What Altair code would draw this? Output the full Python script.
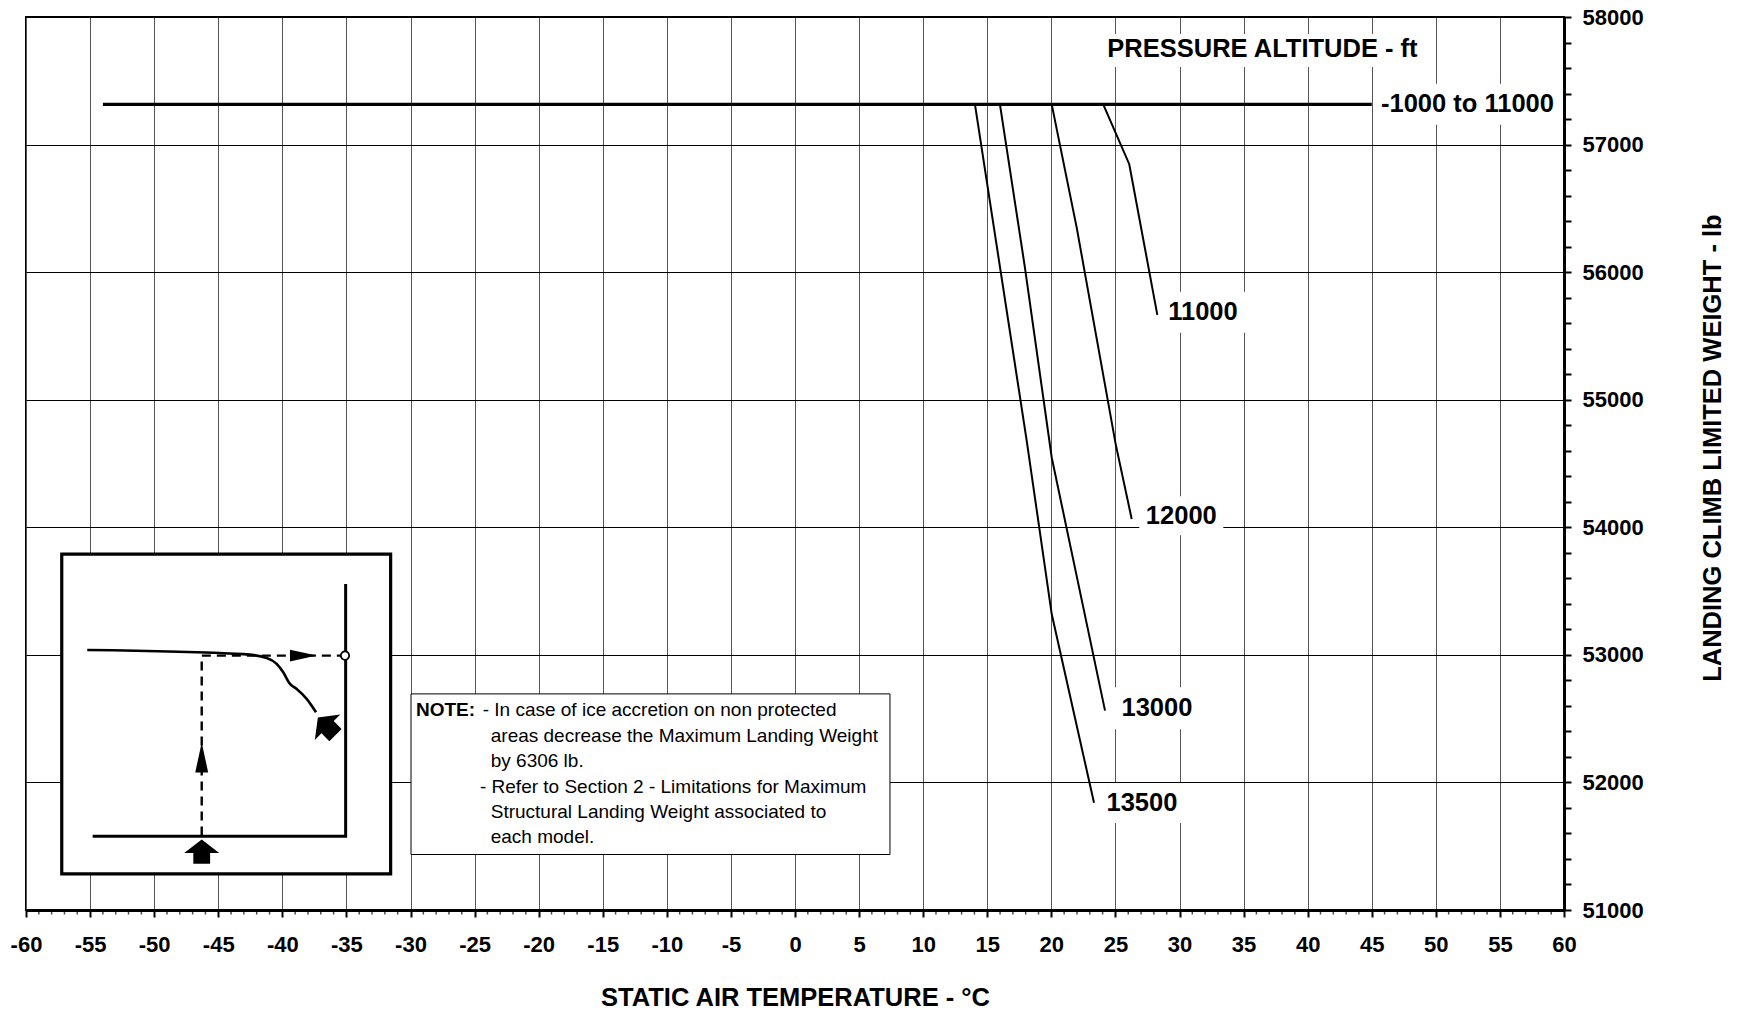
import altair as alt
import pandas as pd

# ---------------- layout constants ----------------
W_PLOT, H_PLOT = 1538, 893
T_MIN, T_MAX = -60, 60
W_MIN, W_MAX = 51000, 58000
PX_T = W_PLOT / (T_MAX - T_MIN)      # px per degC
PX_W = H_PLOT / (W_MAX - W_MIN)      # px per lb
FONT = "Liberation Sans"

# ---------------- data ----------------
x_major = list(range(-60, 61, 5))
x_minor = [t for t in range(-60, 61) if t % 5 != 0]
y_ticks = list(range(51000, 58001, 200))

base_T = [-54.0, 45.0]
base_W = [57315, 57315]

c11000_T = [24.05, 26.08, 28.27]
c11000_W = [57315, 56846, 55665]
c12000_T = [20.03, 21.98, 25.02, 26.27]
c12000_W = [57315, 56349, 54652, 54065]
c13000_T = [15.99, 17.94, 20.03, 24.19]
c13000_W = [57315, 56036, 54547, 52563]
c13500_T = [14.04, 18.08, 20.03, 23.33]
c13500_W = [57315, 54678, 53320, 51840]

curve_labels = ["-1000 to 11000", "11000", "12000", "13000", "13500"]
label_T = [52.47, 31.83, 30.14, 28.24, 27.07]
label_W = [57316, 55685, 54091, 52582, 51838]
label_hw = [89, 43, 42, 44, 44]        # label background half width (px)
label_hh = [20.5, 20.5, 19.5, 21, 20]  # label background half height (px)

header_text = ["PRESSURE ALTITUDE - ft"]
header_T = [36.47]
header_W = [57753]

# note box
note_box_T = [-29.96, 7.41]
note_box_W = [51435, 52694]
note_head = ["NOTE:"]
note_head_T = [-29.57]
note_lines = [
    "- In case of ice accretion on non protected",
    "areas decrease the Maximum Landing Weight",
    "by 6306 lb.",
    "- Refer to Section 2 - Limitations for Maximum",
    "Structural Landing Weight associated to",
    "each model.",
]
note_T = [-24.37, -23.74, -23.74, -24.58, -23.74, -23.74]
note_W = [52565, 52366, 52167, 51968, 51769, 51570]

# inset (how-to-read sketch)
inset_box_T = [-57.21, -31.55]
inset_box_W = [51283, 53790]
inset_axes_T = [-54.80, -35.06, -35.06]
inset_axes_W = [51578, 51578, 53555]
inset_curve_T = [-55.22, -43.05, -41.22, -40.44, -39.93, -39.40, -38.88, -38.10, -37.37]
inset_curve_W = [53038, 53006, 52976, 52929, 52863, 52772, 52733, 52655, 52550]
inset_dash_T = [-46.29, -46.29, -35.24]
inset_dash_W = [51584, 52994, 52994]
inset_head_T = [-46.29, -38.36]
inset_head_W = [52196, 52994]
inset_head_angle = [0, 90]
inset_circle_T = [-35.11]
inset_circle_W = [52994]
inset_arrow_T = [-46.29, -36.54]
inset_arrow_W = [51457, 52440]
inset_arrow_angle = [0, 315]
inset_arrow_size = [1225, 1300]

# ---------------- frames ----------------
def line_df(name, Ts, Ws):
    return pd.DataFrame({"T": Ts, "W": Ws, "s": name, "o": list(range(len(Ts)))})

curves = pd.concat([
    line_df("11000", c11000_T, c11000_W),
    line_df("12000", c12000_T, c12000_W),
    line_df("13000", c13000_T, c13000_W),
    line_df("13500", c13500_T, c13500_W),
])
base = line_df("base", base_T, base_W)

bg = pd.DataFrame({
    "T": [t - hw / PX_T for t, hw in zip(label_T, label_hw)] + [header_T[0] - 164 / PX_T],
    "T2": [t + hw / PX_T for t, hw in zip(label_T, label_hw)] + [header_T[0] + 164 / PX_T],
    "W": [w - hh / PX_W for w, hh in zip(label_W, label_hh)] + [header_W[0] - 18.5 / PX_W],
    "W2": [w + hh / PX_W for w, hh in zip(label_W, label_hh)] + [header_W[0] + 14.5 / PX_W],
})
labels = pd.DataFrame({"T": label_T + header_T, "W": label_W + header_W,
                       "txt": curve_labels + header_text})

xs = alt.Scale(domain=[T_MIN, T_MAX], nice=False, zero=False)
ys = alt.Scale(domain=[W_MIN, W_MAX], nice=False, zero=False)

x_axis = alt.Axis(
    values=x_major, labelExpr="'' + datum.value",
    grid=True, gridColor="#555555", gridWidth=1,
    domainColor="black", domainWidth=3,
    tickColor="black", tickWidth=2, tickSize=7,
    labelFont=FONT, labelFontSize=22, labelFontWeight="bold", labelColor="black",
    labelBaseline="middle", labelPadding=27.5, labelAngle=0,
    labelFlush=False, labelOverlap=False,
    title="STATIC AIR TEMPERATURE - °C", titleFont=FONT, titleFontSize=25.5,
    titleFontWeight="bold", titleColor="black",
    titleX=W_PLOT / 2, titleY=87.5, titleAlign="center", titleBaseline="middle",
)
y_axis = alt.Axis(
    orient="right", values=y_ticks,
    labelExpr="datum.value % 1000 === 0 ? '' + datum.value : ''",
    grid=True, gridColor="black", gridWidth=1,
    gridOpacity={"condition": {"test": "datum.value % 1000 === 0", "value": 1}, "value": 0},
    domainColor="black", domainWidth=3,
    tickColor="black", tickWidth=2, tickSize=7,
    labelFont=FONT, labelFontSize=22, labelFontWeight="bold", labelColor="black",
    labelAlign="left", labelBaseline="middle", labelPadding=11,
    labelFlush=False, labelOverlap=False,
    title="LANDING CLIMB LIMITED WEIGHT - lb", titleFont=FONT, titleFontSize=25.5,
    titleFontWeight="bold", titleColor="black", titleAngle=270,
    titleX=148, titleY=430.6, titleAlign="center", titleBaseline="middle",
)


def X(f="T"):
    return alt.X(f"{f}:Q", scale=xs, axis=x_axis)


def Y(f="W"):
    return alt.Y(f"{f}:Q", scale=ys, axis=y_axis)


base_layer = alt.Chart(base).mark_line(color="black", strokeWidth=3.3).encode(
    x=X(), y=Y(), order="o:Q")

bg_layer = alt.Chart(bg).mark_rect(fill="white").encode(
    x=X("T"), x2="T2", y=Y("W"), y2="W2")

curve_layer = alt.Chart(curves).mark_line(color="black", strokeWidth=2).encode(
    x=X(), y=Y(), detail="s:N", order="o:Q")

label_layer = alt.Chart(labels).mark_text(
    font=FONT, fontSize=25.5, fontWeight="bold", color="black",
    align="center", baseline="middle").encode(x=X(), y=Y(), text="txt:N")

minor_ticks = alt.Chart(pd.DataFrame({"T": x_minor, "W": [W_MIN] * len(x_minor)})).mark_tick(
    orient="vertical", size=4.5, thickness=1.5, yOffset=2.25, color="black").encode(x=X(), y=Y())

# note box
note_box = alt.Chart(pd.DataFrame({"T": [note_box_T[0]], "T2": [note_box_T[1]],
                                   "W": [note_box_W[0]], "W2": [note_box_W[1]]})).mark_rect(
    fill="white", stroke="black", strokeWidth=1).encode(x=X("T"), x2="T2", y=Y("W"), y2="W2")
note_head_layer = alt.Chart(pd.DataFrame({"T": note_head_T, "W": [note_W[0]], "txt": note_head})).mark_text(
    font=FONT, fontSize=19, fontWeight="bold", color="black", align="left", baseline="middle"
).encode(x=X(), y=Y(), text="txt:N")
note_text_layer = alt.Chart(pd.DataFrame({"T": note_T, "W": note_W, "txt": note_lines})).mark_text(
    font=FONT, fontSize=19, color="black", align="left", baseline="middle"
).encode(x=X(), y=Y(), text="txt:N")

# inset sketch
inset_box = alt.Chart(pd.DataFrame({"T": [inset_box_T[0]], "T2": [inset_box_T[1]],
                                    "W": [inset_box_W[0]], "W2": [inset_box_W[1]]})).mark_rect(
    fill="white", stroke="black", strokeWidth=3.2).encode(x=X("T"), x2="T2", y=Y("W"), y2="W2")
inset_axes = alt.Chart(line_df("ax", inset_axes_T, inset_axes_W)).mark_line(
    color="black", strokeWidth=3, strokeJoin="miter").encode(x=X(), y=Y(), order="o:Q")
inset_curve = alt.Chart(line_df("cv", inset_curve_T, inset_curve_W)).mark_line(
    color="black", strokeWidth=2.6, interpolate="monotone").encode(x=X(), y=Y(), order="o:Q")
inset_dash = alt.Chart(line_df("dash", inset_dash_T, inset_dash_W)).mark_line(
    color="black", strokeWidth=2.4, strokeDash=[9, 6]).encode(x=X(), y=Y(), order="o:Q")
inset_heads = alt.Chart(pd.DataFrame({"T": inset_head_T, "W": inset_head_W,
                                      "a": inset_head_angle, "sz": [900, 720]})).mark_point(
    shape="M0,-1L0.43,1L-0.43,1Z", filled=True, color="black", opacity=1).encode(
    x=X(), y=Y(), angle=alt.Angle("a:Q", scale=None), size=alt.Size("sz:Q", scale=None))
inset_circle = alt.Chart(pd.DataFrame({"T": inset_circle_T, "W": inset_circle_W})).mark_point(
    shape="circle", filled=True, fill="white", stroke="black", strokeWidth=1.8, size=70, opacity=1
).encode(x=X(), y=Y())
inset_arrows = alt.Chart(pd.DataFrame({"T": inset_arrow_T, "W": inset_arrow_W,
                                       "a": inset_arrow_angle, "sz": inset_arrow_size})).mark_point(
    shape="M0,-0.69L1,0.07L0.48,0.07L0.48,0.69L-0.48,0.69L-0.48,0.07L-1,0.07Z",
    filled=True, color="black", opacity=1).encode(
    x=X(), y=Y(), angle=alt.Angle("a:Q", scale=None), size=alt.Size("sz:Q", scale=None))

chart = alt.layer(
    base_layer, bg_layer, curve_layer, label_layer, minor_ticks,
    note_box, note_head_layer, note_text_layer,
    inset_box, inset_axes, inset_curve, inset_dash, inset_heads, inset_circle, inset_arrows,
).properties(
    width=W_PLOT, height=H_PLOT,
    autosize=alt.AutoSizeParams(type="none"),
    padding={"left": 18, "top": 9, "right": 165, "bottom": 101},
    background="white",
).configure_view(stroke="black", strokeWidth=2)

chart.save("out.html", embed_options={"renderer": "svg", "actions": False})
